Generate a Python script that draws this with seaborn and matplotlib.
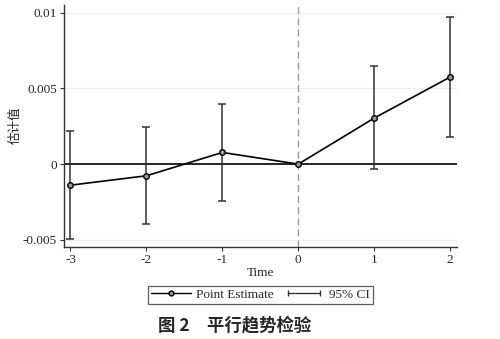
import matplotlib
matplotlib.use("Agg")
import matplotlib.pyplot as plt
from matplotlib.lines import Line2D
from matplotlib.legend_handler import HandlerLine2D
import seaborn as sns
import pandas as pd
import numpy as np

# Data
time = [-3, -2, -1, 0, 1, 2]
estimate = [-0.00139, -0.00077, 0.00077, 0.0, 0.00304, 0.00575]
ci_low = [-0.00497, -0.00396, -0.00242, 0.0, -0.0003, 0.0018]
ci_high = [0.00218, 0.00244, 0.00398, 0.0, 0.0065, 0.00973]
ytick_vals = [-0.005, 0, 0.005, 0.01]
ytick_labels = ["-0.005", "0", "0.005", "0.01"]
xtick_vals = [-3, -2, -1, 0, 1, 2]

df = pd.DataFrame({"time": time, "est": estimate, "lo": ci_low, "hi": ci_high})

sns.set_style("ticks")
plt.rcParams["font.family"] = ["Liberation Serif", "Noto Sans CJK SC"]

fig = plt.figure(figsize=(5.0, 3.39), dpi=100)
ax = fig.add_axes([0.128, 0.271, 0.786, 0.714])

# grid lines
for v in ytick_vals:
    if v != 0:
        ax.axhline(v, color="#ececec", lw=0.8, zorder=0)

ax.axhline(0, color="black", lw=1.2, zorder=1)
ax.axvline(0, color="#999999", lw=1.0, ls=(0, (5, 3)), zorder=1)

# confidence intervals (skip reference period with zero width)
ci = df[df["hi"] != df["lo"]]
ax.errorbar(ci["time"], (ci["lo"] + ci["hi"]) / 2, yerr=(ci["hi"] - ci["lo"]) / 2,
            fmt="none", ecolor="#333333", elinewidth=1.1, capsize=3, capthick=1.1, zorder=2)

sns.lineplot(data=df, x="time", y="est", ax=ax, color="black", lw=1.2,
             marker="o", markersize=4, markerfacecolor="#999999",
             markeredgecolor="black", markeredgewidth=1.0, zorder=3, legend=False)

ax.set_xlim(-3.085, 2.09)
ax.set_ylim(-0.00548, 0.0105)
ax.set_xticks(xtick_vals)
ax.set_xticklabels([str(t) for t in xtick_vals], fontsize=9.5)
ax.set_yticks(ytick_vals)
ax.set_yticklabels(ytick_labels, fontsize=9.5)
ax.tick_params(axis="both", length=3, width=0.8, color="#333333", pad=2)

for s in ["top", "right"]:
    ax.spines[s].set_visible(False)
for s in ["left", "bottom"]:
    ax.spines[s].set_color("#333333")
    ax.spines[s].set_linewidth(1.0)

ax.set_xlabel("Time", fontsize=9.5, labelpad=1)
ax.set_ylabel("估计值", fontsize=9, family=["Noto Sans CJK SC"])
ax.yaxis.set_label_coords(-0.107, 0.504)

h1 = Line2D([], [], color="black", lw=1.0, marker="o", markersize=3.5,
            markerfacecolor="#999999", markeredgecolor="black")
h2 = Line2D([], [], color="#333333", lw=1.0, marker="|", markersize=5, markeredgewidth=1.0)
leg = fig.legend([h1, h2], ["Point Estimate", "95% CI"], loc="center",
                 bbox_to_anchor=(0.521, 0.13), ncol=2, fontsize=9.5,
                 frameon=True, fancybox=False, edgecolor="#333333",
                 handlelength=3.0, handletextpad=0.4, columnspacing=0.8,
                 borderpad=0.25, handler_map={h2: HandlerLine2D(numpoints=2)})
leg.get_frame().set_linewidth(0.9)

fig.text(0.47, 0.041, "图 2\u3000平行趋势检验", ha="center", va="center",
         fontsize=12.5, fontweight="bold", family=["Noto Sans CJK SC"])

fig.savefig("out.png", dpi=100)
